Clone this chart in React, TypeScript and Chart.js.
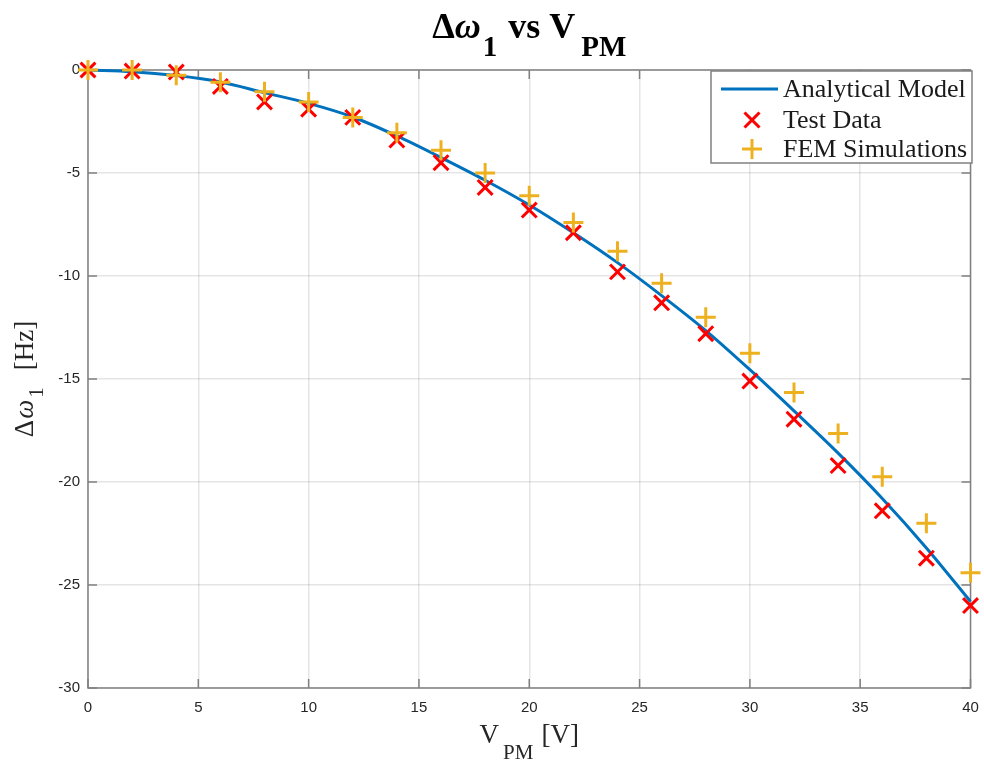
import React, { useEffect, useRef } from 'react';
import { Chart, registerables } from 'chart.js';

Chart.register(...registerables);

// ---- data ----
const voltages = [0, 2, 4, 6, 8, 10, 12, 14, 16, 18, 20, 22, 24, 26, 28, 30, 32, 34, 36, 38, 40];
const analyticalModel = [0, -0.08, -0.27, -0.58, -1.1, -1.62, -2.28, -3.2, -4.25, -5.35, -6.55, -7.9, -9.35, -10.95, -12.65, -14.55, -16.55, -18.6, -20.8, -23.2, -25.8];
const testData = [0, -0.05, -0.1, -0.8, -1.55, -1.9, -2.3, -3.4, -4.5, -5.7, -6.8, -7.9, -9.8, -11.3, -12.8, -15.1, -16.95, -19.2, -21.4, -23.7, -26.0];
const femSimulations = [0, 0, -0.25, -0.6, -1.05, -1.55, -2.3, -3.05, -3.9, -5.0, -6.1, -7.4, -8.8, -10.35, -12.0, -13.75, -15.65, -17.65, -19.75, -22.0, -24.4];
const xTicks = [0, 5, 10, 15, 20, 25, 30, 35, 40];
const yTicks = [0, -5, -10, -15, -20, -25, -30];
const seriesNames = ['Analytical Model', 'Test Data', 'FEM Simulations'];

const SERIF = '"Liberation Serif", "Times New Roman", serif';
const SANS = '"Liberation Sans", Arial, sans-serif';
const BLUE = '#0072BD';
const RED = '#FF0000';
const YELLOW = '#EDB120';
const BOX = '#808080';

type Part = { t: string; f: string; dy?: number; gap?: number };

function drawRich(ctx: CanvasRenderingContext2D, parts: Part[], cx: number, baseline: number, color: string) {
  let total = 0;
  const widths = parts.map((p) => {
    ctx.font = p.f;
    const w = ctx.measureText(p.t).width;
    total += w + (p.gap || 0);
    return w;
  });
  let x = cx - total / 2;
  ctx.textAlign = 'left';
  ctx.textBaseline = 'alphabetic';
  ctx.fillStyle = color;
  parts.forEach((p, i) => {
    x += p.gap || 0;
    ctx.font = p.f;
    ctx.fillText(p.t, x, baseline + (p.dy || 0));
    x += widths[i];
  });
}

const framePlugin = {
  id: 'matlabFrame',
  beforeDatasetsDraw(chart: any) {
    const { ctx, chartArea: a, scales } = chart;
    ctx.save();
    ctx.strokeStyle = BOX;
    ctx.lineWidth = 1.5;
    ctx.strokeRect(a.left, a.top, a.right - a.left, a.bottom - a.top);
    const tl = 9;
    ctx.beginPath();
    xTicks.forEach((v) => {
      const px = scales.x.getPixelForValue(v);
      ctx.moveTo(px, a.bottom);
      ctx.lineTo(px, a.bottom - tl);
      ctx.moveTo(px, a.top);
      ctx.lineTo(px, a.top + tl);
    });
    yTicks.forEach((v) => {
      const py = scales.y.getPixelForValue(v);
      ctx.moveTo(a.left, py);
      ctx.lineTo(a.left + tl, py);
      ctx.moveTo(a.right, py);
      ctx.lineTo(a.right - tl, py);
    });
    ctx.stroke();
    ctx.restore();
  },
  afterDraw(chart: any) {
    const { ctx, chartArea: a } = chart;
    const cx = (a.left + a.right) / 2;
    const cy = (a.top + a.bottom) / 2;
    ctx.save();
    // title
    drawRich(
      ctx,
      [
        { t: 'Δ', f: `bold 36px ${SERIF}` },
        { t: 'ω', f: `italic bold 36px ${SERIF}` },
        { t: '1', f: `bold 29px ${SERIF}`, dy: 18, gap: 2 },
        { t: ' vs V', f: `bold 36px ${SERIF}`, gap: 2 },
        { t: 'PM', f: `bold 29px ${SERIF}`, dy: 18, gap: 6 },
      ],
      cx,
      38,
      '#000'
    );
    // x axis label
    drawRich(
      ctx,
      [
        { t: 'V', f: `27px ${SERIF}` },
        { t: 'PM', f: `21px ${SERIF}`, dy: 16, gap: 4 },
        { t: '[V]', f: `27px ${SERIF}`, gap: 8 },
      ],
      cx,
      743,
      '#262626'
    );
    // y axis label
    ctx.save();
    ctx.translate(33, cy);
    ctx.rotate(-Math.PI / 2);
    drawRich(
      ctx,
      [
        { t: 'Δ', f: `27px ${SERIF}` },
        { t: 'ω', f: `italic 27px ${SERIF}`, gap: 1 },
        { t: '1', f: `21px ${SERIF}`, dy: 10, gap: 2 },
        { t: '[Hz]', f: `27px ${SERIF}`, gap: 17 },
      ],
      0,
      0,
      '#262626'
    );
    ctx.restore();

    // legend
    const lx = 711, ly = 71, lw = 261, lh = 92;
    ctx.fillStyle = '#fff';
    ctx.fillRect(lx, ly, lw, lh);
    ctx.strokeStyle = BOX;
    ctx.lineWidth = 1.5;
    ctx.strokeRect(lx, ly, lw, lh);
    const rows = [ly + 18, ly + 49, ly + 78];
    const mx = 752;
    ctx.strokeStyle = BLUE;
    ctx.lineWidth = 3;
    ctx.beginPath();
    ctx.moveTo(721, rows[0]);
    ctx.lineTo(778, rows[0]);
    ctx.stroke();
    ctx.strokeStyle = RED;
    ctx.lineWidth = 3;
    ctx.beginPath();
    const r = 7.5;
    ctx.moveTo(mx - r, rows[1] - r);
    ctx.lineTo(mx + r, rows[1] + r);
    ctx.moveTo(mx - r, rows[1] + r);
    ctx.lineTo(mx + r, rows[1] - r);
    ctx.stroke();
    ctx.strokeStyle = YELLOW;
    ctx.beginPath();
    const q = 10;
    ctx.moveTo(mx - q, rows[2]);
    ctx.lineTo(mx + q, rows[2]);
    ctx.moveTo(mx, rows[2] - q);
    ctx.lineTo(mx, rows[2] + q);
    ctx.stroke();
    ctx.fillStyle = '#1a1a1a';
    ctx.font = `26px ${SERIF}`;
    ctx.textAlign = 'left';
    ctx.textBaseline = 'middle';
    seriesNames.forEach((n, i) => ctx.fillText(n, 783, rows[i] + 1));
    ctx.restore();
  },
};

export default function App() {
  const ref = useRef<HTMLCanvasElement | null>(null);

  useEffect(() => {
    if (!ref.current) return;
    const toXY = (ys: number[]) => voltages.map((x, i) => ({ x, y: ys[i] }));
    const chart = new Chart(ref.current, {
      type: 'scatter',
      data: {
        datasets: [
          {
            label: seriesNames[0],
            data: toXY(analyticalModel),
            showLine: true,
            borderColor: BLUE,
            borderWidth: 3,
            pointRadius: 0,
            cubicInterpolationMode: 'monotone',
            order: 3,
            clip: false,
          } as any,
          {
            label: seriesNames[1],
            data: toXY(testData),
            pointStyle: 'crossRot',
            pointRadius: 10.5,
            borderColor: RED,
            backgroundColor: RED,
            pointBorderWidth: 3,
            borderWidth: 3,
            order: 2,
            clip: false,
          } as any,
          {
            label: seriesNames[2],
            data: toXY(femSimulations),
            pointStyle: 'cross',
            pointRadius: 10,
            borderColor: YELLOW,
            backgroundColor: YELLOW,
            pointBorderWidth: 3,
            borderWidth: 3,
            order: 1,
            clip: false,
          } as any,
        ],
      },
      options: {
        responsive: false,
        animation: false,
        events: [],
        layout: { padding: { top: 70, right: 13, left: 0, bottom: 0 } },
        plugins: {
          legend: { display: false },
          title: { display: false },
          tooltip: { enabled: false },
        },
        scales: {
          x: {
            type: 'linear',
            min: 0,
            max: 40,
            afterFit: (s: any) => {
              s.height = 73;
              s.paddingLeft = 0;
              s.paddingRight = 0;
            },
            afterBuildTicks: (s: any) => {
              s.ticks = xTicks.map((v) => ({ value: v }));
            },
            ticks: {
              font: { family: SANS, size: 15 },
              color: '#262626',
              padding: 11,
              maxRotation: 0,
            },
            grid: { color: 'rgba(0,0,0,0.1)', lineWidth: 1.5, drawTicks: false },
            border: { display: false },
          },
          y: {
            type: 'linear',
            min: -30,
            max: 0,
            afterFit: (s: any) => {
              s.width = 88;
              s.paddingTop = 0;
              s.paddingBottom = 0;
            },
            afterBuildTicks: (s: any) => {
              s.ticks = yTicks.map((v) => ({ value: v }));
            },
            ticks: {
              font: { family: SANS, size: 15 },
              color: '#262626',
              padding: 8,
            },
            grid: { color: 'rgba(0,0,0,0.1)', lineWidth: 1.5, drawTicks: false },
            border: { display: false },
          },
        },
      },
      plugins: [framePlugin],
    });
    return () => chart.destroy();
  }, []);

  return (
    <div style={{ position: 'absolute', left: 0, top: 0, width: 984, height: 761, background: '#fff' }}>
      <canvas ref={ref} width={984} height={761} style={{ width: 984, height: 761, display: 'block' }} />
    </div>
  );
}
